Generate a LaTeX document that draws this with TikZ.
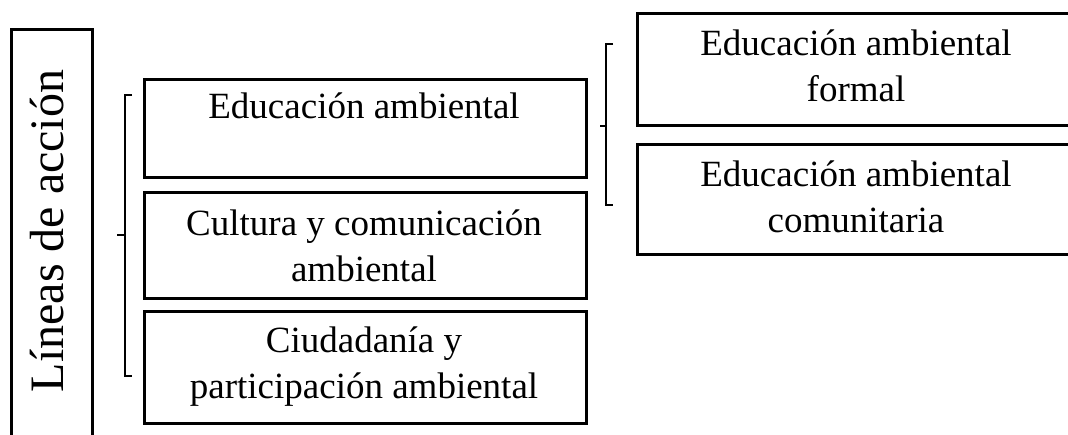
\documentclass[tikz,border=0pt]{standalone}
\usepackage{fontspec}
\setmainfont{Liberation Serif}
\begin{document}
\begin{tikzpicture}[x=1pt,y=-1pt,
  boxst/.style={draw=black, line width=2.6pt, rectangle, inner sep=0pt},
  txt/.style={font=\fontsize{37}{46}\selectfont, align=center, inner sep=0pt, anchor=base},
  brk/.style={draw=black, line width=2.2pt}]
\useasboundingbox (0,0) rectangle (1068,435);
\clip (0,0) rectangle (1068,435);
% left vertical box
\node[boxst, minimum width=81pt, minimum height=440pt, anchor=north west] (L) at (10,28) {};
\node[txt, rotate=90, font=\fontsize{48}{56}\selectfont] (Lt) at (63,231) {Líneas de acción};
% level 1 boxes
\node[boxst, minimum width=442pt, minimum height=98pt, anchor=north west] (A) at (143,78) {};
\node[boxst, minimum width=442pt, minimum height=106pt, anchor=north west] (B) at (143,191) {};
\node[boxst, minimum width=442pt, minimum height=112pt, anchor=north west] (C) at (143,310) {};
\node[txt] (At) at (364,119) {Educación ambiental};
\node[txt] (Bt) at (364,282) {Cultura y comunicación\\ambiental};
\node[txt] (Ct) at (364,399) {Ciudadanía y\\participación ambiental};
% level 2 boxes
\node[boxst, minimum width=441pt, minimum height=112pt, anchor=north west] (D) at (636,12) {};
\node[boxst, minimum width=441pt, minimum height=110pt, anchor=north west] (E) at (636,143) {};
\node[txt] (Dt) at (856,102) {Educación ambiental\\formal};
\node[txt] (Et) at (856,233) {Educación ambiental\\comunitaria};
% brackets
\coordinate (b1t) at (132,95);
\coordinate (b1b) at (132,376);
\coordinate (b1m) at (117,235);
\draw[brk] (b1t) -- (125,95) -- (125,376) -- (b1b);
\draw[brk] (b1m) -- (125,235);
\coordinate (b2t) at (613,44);
\coordinate (b2b) at (613,205);
\coordinate (b2m) at (600,126);
\draw[brk] (b2t) -- (606,44) -- (606,205) -- (b2b);
\draw[brk] (b2m) -- (606,126);
\end{tikzpicture}
\end{document}
